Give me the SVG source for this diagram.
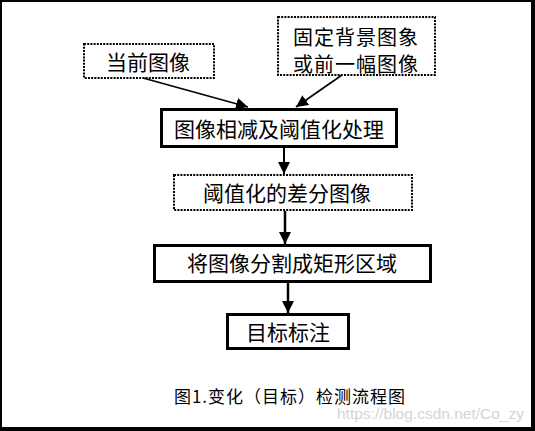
<svg xmlns="http://www.w3.org/2000/svg" width="535" height="431" viewBox="0 0 535 431">
<style>
.t{font-family:"Noto Sans CJK SC","Liberation Sans",sans-serif;font-size:21px;fill:#000;text-anchor:middle;dominant-baseline:central}
.t2{font-size:20px}
.solid{fill:#fff;stroke:#000;stroke-width:3}
.dot{fill:#fff;stroke:#000;stroke-width:2;stroke-dasharray:2 1.2}
.c{stroke:#000;fill:none}
</style>
<defs>
<marker id="ah" markerUnits="userSpaceOnUse" markerWidth="14" markerHeight="12" refX="12" refY="6" orient="auto">
<path d="M0,0 L12,6 L0,12 Z" fill="#000"/>
</marker>
</defs>
<rect x="0" y="0" width="535" height="431" fill="#000"/>
<rect x="2" y="2" width="529" height="425" fill="#fff"/>
<g id="node-current">
<rect class="dot" x="84" y="44" width="130" height="34"/>
<text class="t" x="148" y="61">当前图像</text>
</g>
<g id="node-background">
<rect class="dot" x="278" y="17" width="157" height="58"/>
<text class="t t2" x="356" y="36" letter-spacing="1">固定背景图象</text>
<text class="t t2" x="356" y="63" letter-spacing="1">或前一幅图像</text>
</g>
<g id="node-subtract">
<rect class="solid" x="161.5" y="109.5" width="235" height="37"/>
<text class="t" x="279" y="128">图像相减及阈值化处理</text>
</g>
<g id="node-diff">
<rect class="dot" x="174" y="175" width="238" height="35"/>
<text class="t" x="287" y="192">阈值化的差分图像</text>
</g>
<g id="node-split">
<rect class="solid" x="154.5" y="245.5" width="276" height="36"/>
<text class="t" x="292" y="262">将图像分割成矩形区域</text>
</g>
<g id="node-label">
<rect class="solid" x="227.5" y="314.5" width="121" height="34"/>
<text class="t" x="288" y="331">目标标注</text>
</g>
<g id="connectors">
<line class="c" x1="143" y1="78" x2="248" y2="107" stroke-width="1.6" marker-end="url(#ah)"/>
<line class="c" x1="342" y1="75" x2="296" y2="107" stroke-width="1.6" marker-end="url(#ah)"/>
<line class="c" x1="284" y1="148" x2="284" y2="174" stroke-width="2" marker-end="url(#ah)"/>
<line class="c" x1="285" y1="211" x2="285" y2="244" stroke-width="2.5" marker-end="url(#ah)"/>
<line class="c" x1="288" y1="283" x2="288" y2="313" stroke-width="2.5" marker-end="url(#ah)"/>
</g>
<text x="290" y="395" font-family="'Noto Sans CJK SC','Liberation Sans',sans-serif" font-size="17" text-anchor="middle" dominant-baseline="central" letter-spacing="1">图1.变化（目标）检测流程图</text>
<text x="337" y="419" font-family="'Liberation Sans',Arial,sans-serif" font-size="15.5" fill="#d4d4d4">https://blog.csdn.net/Co_zy</text>
</svg>
